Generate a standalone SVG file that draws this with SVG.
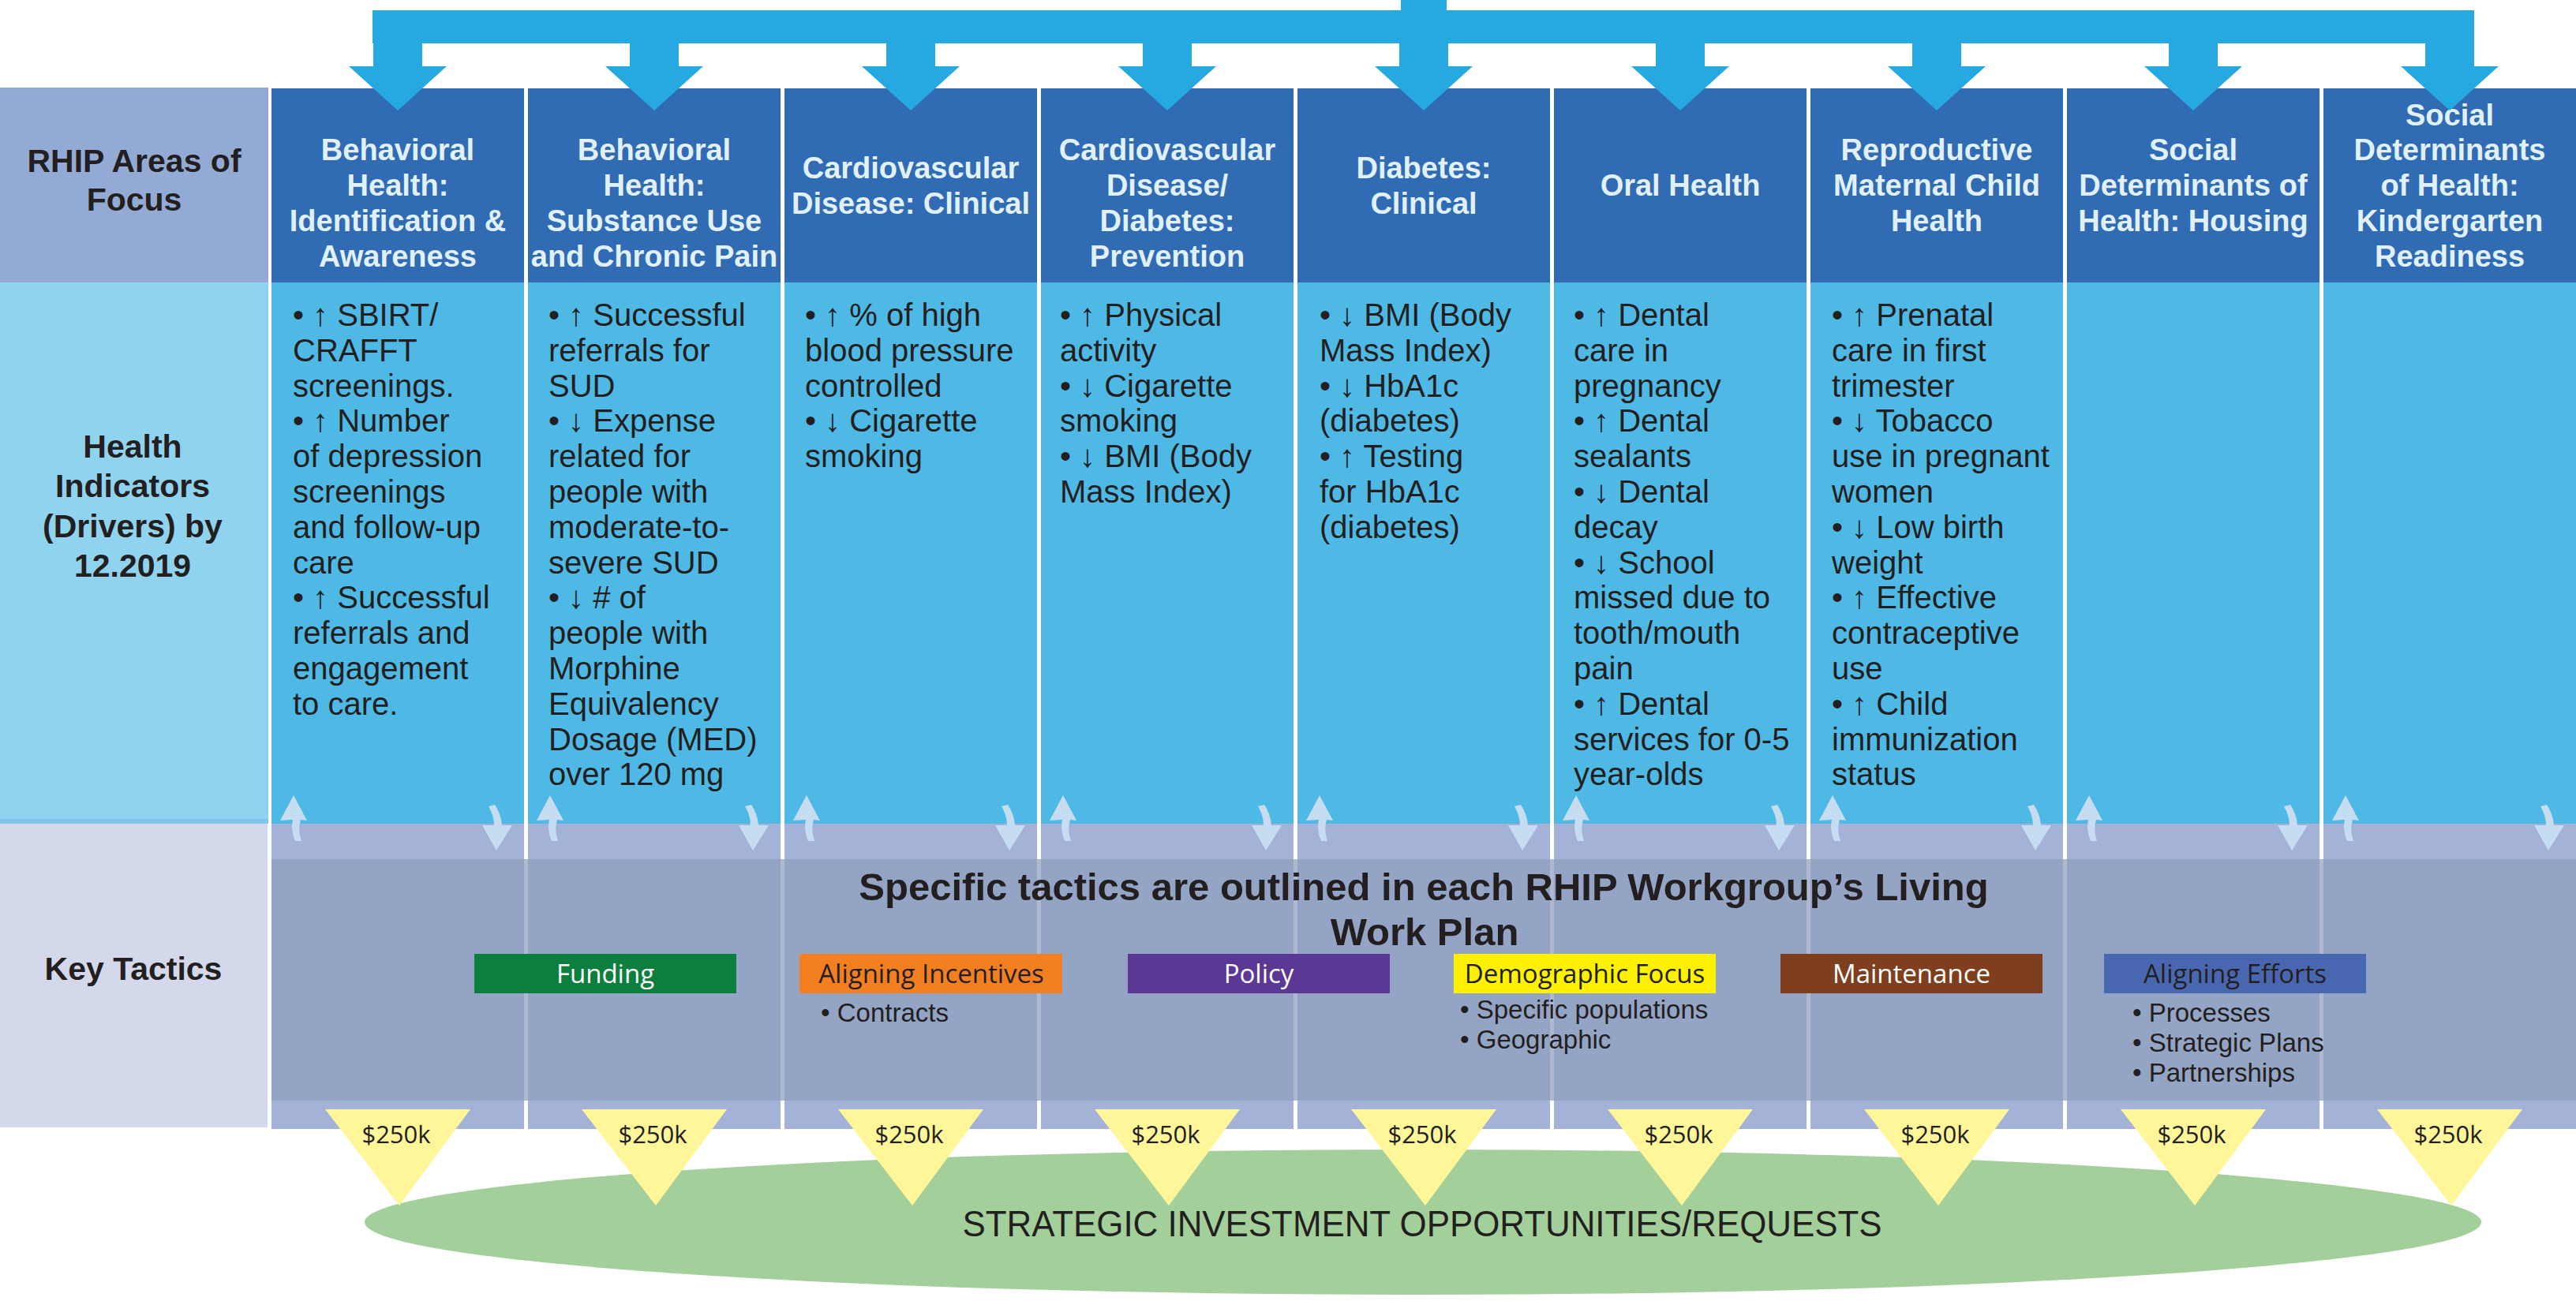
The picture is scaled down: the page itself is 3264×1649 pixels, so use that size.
<svg xmlns="http://www.w3.org/2000/svg" width="3264" height="1649" viewBox="0 0 3264 1649">
<style>
.hdr{fill:#306bb3}
.hlab{fill:#93abd4}
.ind{fill:#4fb9e6}
.ilab{fill:#90d3ef}
.tlab{fill:#d3d9eb}
.tstrip{fill:#a3b2d6}
.band{fill:#8f9ebd;opacity:0.72}
.lab{font-family:"Liberation Sans",Arial,sans-serif;font-weight:bold;font-size:41px;fill:#231f20;text-anchor:middle}
.ht{font-family:"Liberation Sans",Arial,sans-serif;font-weight:bold;font-size:38px;fill:#e0f1fb;text-anchor:middle}
.bt{font-family:"Liberation Sans",Arial,"DejaVu Sans",sans-serif;font-size:40px;fill:#231f20}
.title{font-family:"Liberation Sans",Arial,sans-serif;font-weight:bold;font-size:49px;fill:#231f20;text-anchor:middle}
.tbl{font-family:"Open Sans","DejaVu Sans",sans-serif;font-size:33px;text-anchor:middle}
.sub{font-family:"Liberation Sans",Arial,sans-serif;font-size:33px;fill:#231f20}
.money{font-family:"Open Sans","DejaVu Sans",sans-serif;font-size:31px;fill:#231f20;text-anchor:middle}
.tri{fill:#fff69a}
.carrow{fill:#c6ddf1}
.flow{fill:#26a9e0}
.big{font-family:"Liberation Sans",Arial,sans-serif;font-size:47px;fill:#231f20;text-anchor:middle}
</style>

<!-- Row labels -->
<g id="label-areas">
<rect class="hlab" x="0" y="111" width="340" height="247"/>
<text class="lab" x="170" y="218">RHIP Areas of</text>
<text class="lab" x="170" y="267">Focus</text>
</g>
<g id="label-indicators">
<rect class="ilab" x="0" y="358" width="340" height="684"/>
<rect fill="#7fc5ea" x="0" y="1038" width="340" height="6"/>
<text class="lab" x="168" y="580">Health</text>
<text class="lab" x="168" y="630">Indicators</text>
<text class="lab" x="168" y="681">(Drivers) by</text>
<text class="lab" x="168" y="731">12.2019</text>
</g>
<g id="label-tactics">
<rect class="tlab" x="0" y="1044" width="339" height="385"/>
<text class="lab" x="169" y="1242">Key Tactics</text>
</g>

<!-- Column backgrounds: tactics strips -->
<g id="tactics-strip">
<rect class="tstrip" x="344" y="1042" width="320" height="389"/>
<rect class="tstrip" x="669" y="1042" width="320" height="389"/>
<rect class="tstrip" x="994" y="1042" width="320" height="389"/>
<rect class="tstrip" x="1319" y="1042" width="320" height="389"/>
<rect class="tstrip" x="1644" y="1042" width="320" height="389"/>
<rect class="tstrip" x="1969" y="1042" width="320" height="389"/>
<rect class="tstrip" x="2294" y="1042" width="320" height="389"/>
<rect class="tstrip" x="2619" y="1042" width="320" height="389"/>
<rect class="tstrip" x="2944" y="1042" width="320" height="389"/>
</g>

<!-- Focus area columns -->
<g id="col-bh-identification">
<rect class="hdr" x="344" y="112" width="320" height="246"/>
<rect class="ind" x="344" y="358" width="320" height="686"/>
<text class="ht" x="504" y="203">Behavioral</text>
<text class="ht" x="504" y="248">Health:</text>
<text class="ht" x="504" y="293">Identification &amp;</text>
<text class="ht" x="504" y="338">Awareness</text>
<text class="bt" x="371" y="413">• ↑ SBIRT/<tspan x="371" dy="44.8">CRAFFT</tspan><tspan x="371" dy="44.8">screenings.</tspan><tspan x="371" dy="44.8">• ↑ Number</tspan><tspan x="371" dy="44.8">of depression</tspan><tspan x="371" dy="44.8">screenings</tspan><tspan x="371" dy="44.8">and follow-up</tspan><tspan x="371" dy="44.8">care</tspan><tspan x="371" dy="44.8">• ↑ Successful</tspan><tspan x="371" dy="44.8">referrals and</tspan><tspan x="371" dy="44.8">engagement</tspan><tspan x="371" dy="44.8">to care.</tspan></text>
</g>
<g id="col-bh-substance">
<rect class="hdr" x="669" y="112" width="320" height="246"/>
<rect class="ind" x="669" y="358" width="320" height="686"/>
<text class="ht" x="829" y="203">Behavioral</text>
<text class="ht" x="829" y="248">Health:</text>
<text class="ht" x="829" y="293">Substance Use</text>
<text class="ht" x="829" y="338">and Chronic Pain</text>
<text class="bt" x="695" y="413">• ↑ Successful<tspan x="695" dy="44.8">referrals for</tspan><tspan x="695" dy="44.8">SUD</tspan><tspan x="695" dy="44.8">• ↓ Expense</tspan><tspan x="695" dy="44.8">related for</tspan><tspan x="695" dy="44.8">people with</tspan><tspan x="695" dy="44.8">moderate-to-</tspan><tspan x="695" dy="44.8">severe SUD</tspan><tspan x="695" dy="44.8">• ↓ # of</tspan><tspan x="695" dy="44.8">people with</tspan><tspan x="695" dy="44.8">Morphine</tspan><tspan x="695" dy="44.8">Equivalency</tspan><tspan x="695" dy="44.8">Dosage (MED)</tspan><tspan x="695" dy="44.8">over 120 mg</tspan></text>
</g>
<g id="col-cvd-clinical">
<rect class="hdr" x="994" y="112" width="320" height="246"/>
<rect class="ind" x="994" y="358" width="320" height="686"/>
<text class="ht" x="1154" y="226">Cardiovascular</text>
<text class="ht" x="1154" y="271">Disease: Clinical</text>
<text class="bt" x="1020" y="413">• ↑ % of high<tspan x="1020" dy="44.8">blood pressure</tspan><tspan x="1020" dy="44.8">controlled</tspan><tspan x="1020" dy="44.8">• ↓ Cigarette</tspan><tspan x="1020" dy="44.8">smoking</tspan></text>
</g>
<g id="col-cvd-prevention">
<rect class="hdr" x="1319" y="112" width="320" height="246"/>
<rect class="ind" x="1319" y="358" width="320" height="686"/>
<text class="ht" x="1479" y="203">Cardiovascular</text>
<text class="ht" x="1479" y="248">Disease/</text>
<text class="ht" x="1479" y="293">Diabetes:</text>
<text class="ht" x="1479" y="338">Prevention</text>
<text class="bt" x="1343" y="413">• ↑ Physical<tspan x="1343" dy="44.8">activity</tspan><tspan x="1343" dy="44.8">• ↓ Cigarette</tspan><tspan x="1343" dy="44.8">smoking</tspan><tspan x="1343" dy="44.8">• ↓ BMI (Body</tspan><tspan x="1343" dy="44.8">Mass Index)</tspan></text>
</g>
<g id="col-diabetes-clinical">
<rect class="hdr" x="1644" y="112" width="320" height="246"/>
<rect class="ind" x="1644" y="358" width="320" height="686"/>
<text class="ht" x="1804" y="226">Diabetes:</text>
<text class="ht" x="1804" y="271">Clinical</text>
<text class="bt" x="1672" y="413">• ↓ BMI (Body<tspan x="1672" dy="44.8">Mass Index)</tspan><tspan x="1672" dy="44.8">• ↓ HbA1c</tspan><tspan x="1672" dy="44.8">(diabetes)</tspan><tspan x="1672" dy="44.8">• ↑ Testing</tspan><tspan x="1672" dy="44.8">for HbA1c</tspan><tspan x="1672" dy="44.8">(diabetes)</tspan></text>
</g>
<g id="col-oral-health">
<rect class="hdr" x="1969" y="112" width="320" height="246"/>
<rect class="ind" x="1969" y="358" width="320" height="686"/>
<text class="ht" x="2129" y="248">Oral Health</text>
<text class="bt" x="1994" y="413">• ↑ Dental<tspan x="1994" dy="44.8">care in</tspan><tspan x="1994" dy="44.8">pregnancy</tspan><tspan x="1994" dy="44.8">• ↑ Dental</tspan><tspan x="1994" dy="44.8">sealants</tspan><tspan x="1994" dy="44.8">• ↓ Dental</tspan><tspan x="1994" dy="44.8">decay</tspan><tspan x="1994" dy="44.8">• ↓ School</tspan><tspan x="1994" dy="44.8">missed due to</tspan><tspan x="1994" dy="44.8">tooth/mouth</tspan><tspan x="1994" dy="44.8">pain</tspan><tspan x="1994" dy="44.8">• ↑ Dental</tspan><tspan x="1994" dy="44.8">services for 0-5</tspan><tspan x="1994" dy="44.8">year-olds</tspan></text>
</g>
<g id="col-rmch">
<rect class="hdr" x="2294" y="112" width="320" height="246"/>
<rect class="ind" x="2294" y="358" width="320" height="686"/>
<text class="ht" x="2454" y="203">Reproductive</text>
<text class="ht" x="2454" y="248">Maternal Child</text>
<text class="ht" x="2454" y="293">Health</text>
<text class="bt" x="2321" y="413">• ↑ Prenatal<tspan x="2321" dy="44.8">care in first</tspan><tspan x="2321" dy="44.8">trimester</tspan><tspan x="2321" dy="44.8">• ↓ Tobacco</tspan><tspan x="2321" dy="44.8">use in pregnant</tspan><tspan x="2321" dy="44.8">women</tspan><tspan x="2321" dy="44.8">• ↓ Low birth</tspan><tspan x="2321" dy="44.8">weight</tspan><tspan x="2321" dy="44.8">• ↑ Effective</tspan><tspan x="2321" dy="44.8">contraceptive</tspan><tspan x="2321" dy="44.8">use</tspan><tspan x="2321" dy="44.8">• ↑ Child</tspan><tspan x="2321" dy="44.8">immunization</tspan><tspan x="2321" dy="44.8">status</tspan></text>
</g>
<g id="col-sdoh-housing">
<rect class="hdr" x="2619" y="112" width="320" height="246"/>
<rect class="ind" x="2619" y="358" width="320" height="686"/>
<text class="ht" x="2779" y="203">Social</text>
<text class="ht" x="2779" y="248">Determinants of</text>
<text class="ht" x="2779" y="293">Health: Housing</text>
</g>
<g id="col-sdoh-kindergarten">
<rect class="hdr" x="2944" y="112" width="320" height="246"/>
<rect class="ind" x="2944" y="358" width="320" height="686"/>
<text class="ht" x="3104" y="159">Social</text>
<text class="ht" x="3104" y="203">Determinants</text>
<text class="ht" x="3104" y="248">of Health:</text>
<text class="ht" x="3104" y="293">Kindergarten</text>
<text class="ht" x="3104" y="338">Readiness</text>
</g>

<!-- Tactics band -->
<g id="tactics-band">
<rect class="band" x="344" y="1089" width="2920" height="306"/>
<text class="title" x="1804" y="1141">Specific tactics are outlined in each RHIP Workgroup’s Living</text>
<text class="title" x="1805" y="1198">Work Plan</text>
</g>

<g id="tactic-funding">
<rect fill="#0c7f3e" x="601" y="1209" width="332" height="50"/>
<text class="tbl" fill="#ffffff" x="767" y="1246">Funding</text>
</g>
<g id="tactic-incentives">
<rect fill="#f47f20" x="1013" y="1209" width="333" height="50"/>
<text class="tbl" fill="#231f20" x="1180" y="1246">Aligning Incentives</text>
<text class="sub" x="1040" y="1295">• Contracts</text>
</g>
<g id="tactic-policy">
<rect fill="#5b3895" x="1429" y="1209" width="332" height="50"/>
<text class="tbl" fill="#ffffff" x="1595" y="1246">Policy</text>
</g>
<g id="tactic-demographic">
<rect fill="#fff200" x="1842" y="1209" width="332" height="50"/>
<text class="tbl" fill="#231f20" x="2008" y="1246">Demographic Focus</text>
<text class="sub" x="1850" y="1291">• Specific populations</text>
<text class="sub" x="1850" y="1329">• Geographic</text>
</g>
<g id="tactic-maintenance">
<rect fill="#7f3f1e" x="2256" y="1209" width="332" height="50"/>
<text class="tbl" fill="#ffffff" x="2422" y="1246">Maintenance</text>
</g>
<g id="tactic-aligning-efforts">
<rect fill="#4967b0" x="2666" y="1209" width="332" height="50"/>
<text class="tbl" fill="#231f20" x="2832" y="1246">Aligning Efforts</text>
<text class="sub" x="2702" y="1295">• Processes</text>
<text class="sub" x="2702" y="1333">• Strategic Plans</text>
<text class="sub" x="2702" y="1371">• Partnerships</text>
</g>

<!-- Strategic investment -->
<g id="strategic-investment">
<ellipse fill="#a3cf9a" cx="1803" cy="1549" rx="1341" ry="92"/>
<text class="big" x="1802" y="1567" textLength="1165" lengthAdjust="spacingAndGlyphs">STRATEGIC INVESTMENT OPPORTUNITIES/REQUESTS</text>
</g>

<!-- Funding triangles -->
<g id="funding-1"><polygon class="tri" points="412,1406 596,1406 506,1528"/><text class="money" x="502" y="1449">$250k</text></g>
<g id="funding-2"><polygon class="tri" points="737,1406 921,1406 831,1528"/><text class="money" x="827" y="1449">$250k</text></g>
<g id="funding-3"><polygon class="tri" points="1062,1406 1246,1406 1156,1528"/><text class="money" x="1152" y="1449">$250k</text></g>
<g id="funding-4"><polygon class="tri" points="1387,1406 1571,1406 1481,1528"/><text class="money" x="1477" y="1449">$250k</text></g>
<g id="funding-5"><polygon class="tri" points="1712,1406 1896,1406 1806,1528"/><text class="money" x="1802" y="1449">$250k</text></g>
<g id="funding-6"><polygon class="tri" points="2037,1406 2221,1406 2131,1528"/><text class="money" x="2127" y="1449">$250k</text></g>
<g id="funding-7"><polygon class="tri" points="2362,1406 2546,1406 2456,1528"/><text class="money" x="2452" y="1449">$250k</text></g>
<g id="funding-8"><polygon class="tri" points="2687,1406 2871,1406 2781,1528"/><text class="money" x="2777" y="1449">$250k</text></g>
<g id="funding-9"><polygon class="tri" points="3012,1406 3196,1406 3106,1528"/><text class="money" x="3102" y="1449">$250k</text></g>

<!-- Connectors -->
<g id="connectors">
<g id="distribution-arrows" class="flow">
<rect x="472" y="13" width="2663" height="42"/>
<rect x="1775" y="0" width="58" height="14"/>
<path d="M473,54h62v30h31l-62,56l-62,-56h31z"/>
<path d="M798,54h62v30h31l-62,56l-62,-56h31z"/>
<path d="M1123,54h62v30h31l-62,56l-62,-56h31z"/>
<path d="M1448,54h62v30h31l-62,56l-62,-56h31z"/>
<path d="M1773,54h62v30h31l-62,56l-62,-56h31z"/>
<path d="M2098,54h62v30h31l-62,56l-62,-56h31z"/>
<path d="M2423,54h62v30h31l-62,56l-62,-56h31z"/>
<path d="M2748,54h62v30h31l-62,56l-62,-56h31z"/>
<path d="M3073,54h62v30h31l-62,56l-62,-56h31z"/>
</g>
<g id="feedback-arrows" class="carrow">
<path d="M372,1008 L389,1040 L381,1039 Q377,1052 382,1066 L374,1066 Q368,1052 371,1039 L355,1040 Z"/>
<path d="M619,1022 L627,1020 Q635,1032 636,1046 L649,1046 L629,1078 L611,1046 L626,1046 Q626,1034 619,1022 Z"/>
<path d="M697,1008 L714,1040 L706,1039 Q702,1052 707,1066 L699,1066 Q693,1052 696,1039 L680,1040 Z"/>
<path d="M944,1022 L952,1020 Q960,1032 961,1046 L974,1046 L954,1078 L936,1046 L951,1046 Q951,1034 944,1022 Z"/>
<path d="M1022,1008 L1039,1040 L1031,1039 Q1027,1052 1032,1066 L1024,1066 Q1018,1052 1021,1039 L1005,1040 Z"/>
<path d="M1269,1022 L1277,1020 Q1285,1032 1286,1046 L1299,1046 L1279,1078 L1261,1046 L1276,1046 Q1276,1034 1269,1022 Z"/>
<path d="M1347,1008 L1364,1040 L1356,1039 Q1352,1052 1357,1066 L1349,1066 Q1343,1052 1346,1039 L1330,1040 Z"/>
<path d="M1594,1022 L1602,1020 Q1610,1032 1611,1046 L1624,1046 L1604,1078 L1586,1046 L1601,1046 Q1601,1034 1594,1022 Z"/>
<path d="M1672,1008 L1689,1040 L1681,1039 Q1677,1052 1682,1066 L1674,1066 Q1668,1052 1671,1039 L1655,1040 Z"/>
<path d="M1919,1022 L1927,1020 Q1935,1032 1936,1046 L1949,1046 L1929,1078 L1911,1046 L1926,1046 Q1926,1034 1919,1022 Z"/>
<path d="M1997,1008 L2014,1040 L2006,1039 Q2002,1052 2007,1066 L1999,1066 Q1993,1052 1996,1039 L1980,1040 Z"/>
<path d="M2244,1022 L2252,1020 Q2260,1032 2261,1046 L2274,1046 L2254,1078 L2236,1046 L2251,1046 Q2251,1034 2244,1022 Z"/>
<path d="M2322,1008 L2339,1040 L2331,1039 Q2327,1052 2332,1066 L2324,1066 Q2318,1052 2321,1039 L2305,1040 Z"/>
<path d="M2569,1022 L2577,1020 Q2585,1032 2586,1046 L2599,1046 L2579,1078 L2561,1046 L2576,1046 Q2576,1034 2569,1022 Z"/>
<path d="M2647,1008 L2664,1040 L2656,1039 Q2652,1052 2657,1066 L2649,1066 Q2643,1052 2646,1039 L2630,1040 Z"/>
<path d="M2894,1022 L2902,1020 Q2910,1032 2911,1046 L2924,1046 L2904,1078 L2886,1046 L2901,1046 Q2901,1034 2894,1022 Z"/>
<path d="M2972,1008 L2989,1040 L2981,1039 Q2977,1052 2982,1066 L2974,1066 Q2968,1052 2971,1039 L2955,1040 Z"/>
<path d="M3219,1022 L3227,1020 Q3235,1032 3236,1046 L3249,1046 L3229,1078 L3211,1046 L3226,1046 Q3226,1034 3219,1022 Z"/>
</g>
</g>
</svg>
